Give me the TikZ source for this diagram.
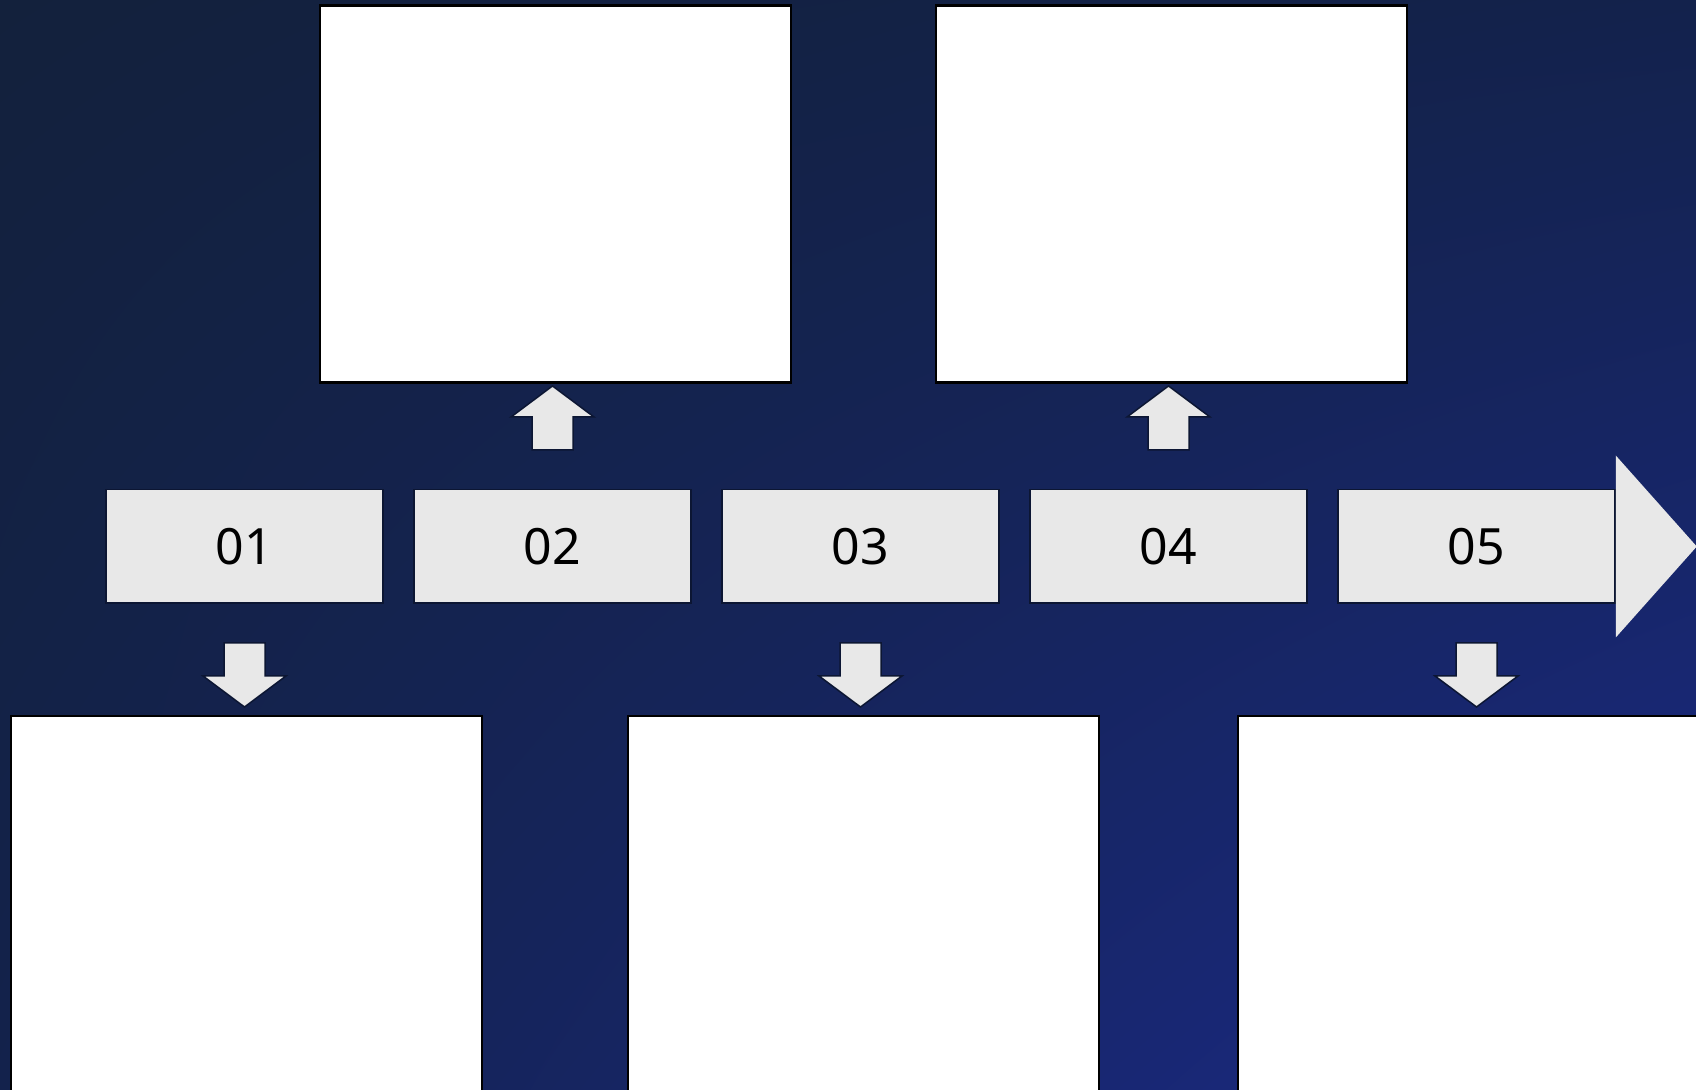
\documentclass[tikz,border=0pt]{standalone}
\usepackage{fontspec}
\setmainfont{Noto Sans}
\usepackage{tikz}
\usetikzlibrary{positioning,calc,shadings}

\definecolor{bgdark}{HTML}{13213C}
\definecolor{bgmid}{HTML}{13224C}
\definecolor{bgblue}{HTML}{1B2A88}
\definecolor{steelgray}{HTML}{E8E8E8}
\definecolor{edgenavy}{HTML}{0C1633}

\tikzset{
  numbox/.style={draw=edgenavy, line width=1.5pt, fill=steelgray, inner sep=0pt,
    minimum width=277pt, minimum height=113.5pt, font=\fontsize{50}{56}\selectfont},
  textbox/.style={draw=black, line width=2.5pt, fill=white, inner sep=0pt,
    minimum width=471pt, minimum height=377pt},
  blockarrow/.style={draw=edgenavy, line width=1.5pt, fill=steelgray, line join=miter}
}

\begin{document}
\begin{tikzpicture}[x=1pt,y=1pt]
		\useasboundingbox (0,0) rectangle (1696,1089);
		\clip (0,0) rectangle (1696,1089);
		%Background
		\shade[upper left=bgdark, upper right=bgmid, lower left=bgmid, lower right=bgblue] (0,0) rectangle (1696,1089);
		%Steps along the timeline
		\foreach \i in {1,2,3,4,5}
		\node[numbox] (n\i) at ({244.5+308*(\i-1)},542.5) {0\i};
		\fill[steelgray] ($(n5.east)+(0,91)$) -- ($(n5.east)+(81,0)$) -- ($(n5.east)+(0,-91)$) -- cycle;
		%Boxes above and below
		\node[textbox, above=105pt of n2, xshift=3pt] (t2) {};
		\node[textbox, above=105pt of n4, xshift=3pt] (t4) {};
		\node[textbox, below=111pt of n1, xshift=2pt] (b1) {};
		\node[textbox, below=111pt of n3, xshift=3pt] (b3) {};
		\node[textbox, below=111pt of n5, xshift=-3pt] (b5) {};
		%Arrows up
		\foreach \i in {2,4}
		\draw[blockarrow] ($(n\i.north)+(-20.5,39)$) -- ++(0,33) -- ++(-21,0) -- ++(41.5,31) -- ++(41.5,-31) -- ++(-21,0) -- ++(0,-33) -- cycle;
		%Arrows down
		\foreach \i in {1,3,5}
		\draw[blockarrow] ($(n\i.south)+(-20.5,-39)$) -- ++(0,-33) -- ++(-21,0) -- ++(41.5,-31) -- ++(41.5,31) -- ++(-21,0) -- ++(0,33) -- cycle;
\end{tikzpicture}
\end{document}
